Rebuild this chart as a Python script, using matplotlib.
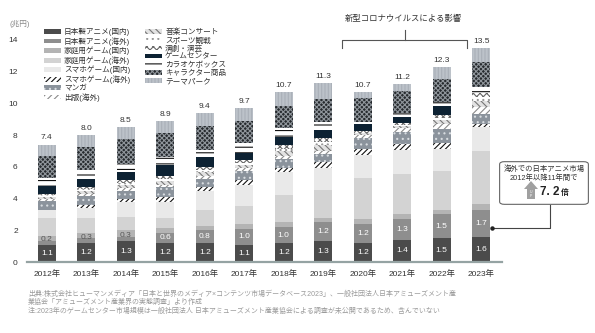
import matplotlib.pyplot as plt
import numpy as np
from matplotlib.patches import FancyBboxPatch, Polygon
from matplotlib.lines import Line2D

plt.rcParams['font.family'] = ['Liberation Sans', 'Noto Sans CJK JP', 'DejaVu Sans']
plt.rcParams['hatch.linewidth'] = 0.8

years = ['2012年', '2013年', '2014年', '2015年', '2016年', '2017年',
         '2018年', '2019年', '2020年', '2021年', '2022年', '2023年']

anime_dom = [1.1, 1.2, 1.3, 1.2, 1.2, 1.1, 1.2, 1.3, 1.2, 1.4, 1.5, 1.6]
anime_ovs = [0.2, 0.3, 0.3, 0.6, 0.8, 1.0, 1.0, 1.2, 1.2, 1.3, 1.5, 1.7]
console_dom = [0.35, 0.3, 0.4, 0.35, 0.3, 0.3, 0.3, 0.3, 0.3, 0.35, 0.25, 0.35]
console_ovs = [1.1, 1.0, 0.85, 0.65, 0.95, 1.15, 1.75, 1.75, 2.6, 2.5, 2.5, 3.35]
mobile_dom = [0.5, 0.6, 0.95, 1.0, 1.2, 1.3, 1.4, 1.4, 1.45, 1.5, 1.4, 1.5]
mobile_ovs = [0.0, 0.2, 0.2, 0.3, 0.3, 0.3, 0.3, 0.35, 0.4, 0.4, 0.35, 0.2]
manga = [0.6, 0.55, 0.5, 0.6, 0.5, 0.6, 0.55, 0.5, 0.65, 0.75, 0.9, 0.6]
publish_ovs = [0.1, 0.15, 0.15, 0.15, 0.15, 0.15, 0.2, 0.2, 0.2, 0.25, 0.3, 0.45]
concert = [0.15, 0.2, 0.2, 0.25, 0.25, 0.2, 0.3, 0.35, 0.1, 0.1, 0.25, 0.4]
sports = [0.1, 0.1, 0.15, 0.15, 0.15, 0.15, 0.15, 0.2, 0.05, 0.1, 0.15, 0.25]
theater = [0.1, 0.15, 0.15, 0.15, 0.2, 0.15, 0.2, 0.25, 0.1, 0.1, 0.15, 0.25]
game_center = [0.5, 0.5, 0.5, 0.7, 0.6, 0.5, 0.5, 0.5, 0.45, 0.4, 0.6, 0.0]
karaoke = [0.5, 0.55, 0.55, 0.5, 0.45, 0.6, 0.6, 0.5, 0.15, 0.25, 0.25, 0.4]
character = [1.4, 1.45, 1.55, 1.5, 1.5, 1.4, 1.4, 1.5, 1.5, 1.35, 1.45, 1.55]
theme_park = [0.7, 0.75, 0.75, 0.8, 0.85, 0.8, 0.85, 1.0, 0.35, 0.45, 0.75, 0.9]

series = [
    ('日本製アニメ(国内)', anime_dom, dict(color='#4b4b4b')),
    ('日本製アニメ(海外)', anime_ovs, dict(color='#8e8e8e')),
    ('家庭用ゲーム(国内)', console_dom, dict(color='#b4b4b4')),
    ('家庭用ゲーム(海外)', console_ovs, dict(color='#d3d3d3')),
    ('スマホゲーム(国内)', mobile_dom, dict(color='#e9e9e9')),
    ('スマホゲーム(海外)', mobile_ovs, dict(facecolor='white', edgecolor='#111111', hatch='//////')),
    ('マンガ', manga, dict(facecolor='#8b939c', edgecolor='#d8dce0', hatch='...')),
    ('出版(海外)', publish_ovs, dict(facecolor='white', edgecolor='#8a8a8a', hatch='/////')),
    ('音楽コンサート', concert, dict(facecolor='#e2e2e2', edgecolor='#777777', hatch='\\\\\\\\\\')),
    ('スポーツ観戦', sports, dict(facecolor='white', edgecolor='#9a9a9a', hatch='...')),
    ('演劇・演芸', theater, dict(facecolor='white', edgecolor='#666666', hatch='xxxxx')),
    ('ゲームセンター', game_center, dict(color='#0d2233')),
    ('カラオケボックス', karaoke, dict(facecolor='white', edgecolor='#111111', hatch='---')),
    ('キャラクター商品', character, dict(facecolor='#262a2e', edgecolor='#8f959b', hatch='xxxxxxx')),
    ('テーマパーク', theme_park, dict(facecolor='#bcc2c9', edgecolor='#aab0b8', hatch='|||||')),
]

fig = plt.figure(figsize=(5.95, 3.33), dpi=100)
ax = fig.add_axes([0.045, 0.2132, 0.799, 0.667])

x = np.arange(len(years))
width = 0.46
bottom = np.zeros(len(years))
handles = []
for name, vals, style in series:
    vals = np.array(vals)
    bars = ax.bar(x, vals, width, bottom=bottom, linewidth=0, label=name, **style)
    handles.append(bars)
    if name.startswith('日本製アニメ'):
        for xi, v, b in zip(x, vals, bottom):
            small = v < 0.5
            y = max(b + v / 2, b + 0.35)
            ax.text(xi, y, f'{v:.1f}', ha='center', va='center', fontsize=6,
                    color='#555555' if small else 'white')
    bottom += vals

# totals above each bar
for xi, t in zip(x, bottom):
    ax.text(xi, t + 0.2, f'{t:.1f}', ha='center', va='bottom', fontsize=6, color='#333333')

ax.set_xlim(-0.507, 11.53)
ax.set_ylim(0, 14)
ax.set_yticks(range(0, 15, 2))
ax.set_xticks(x)
ax.set_xticklabels(years)
ax.tick_params(axis='y', length=0, pad=6.5, labelsize=6, labelcolor='#333333')
ax.tick_params(axis='x', length=0, pad=6, labelsize=6, labelcolor='#333333')
for s in ['top', 'right', 'left']:
    ax.spines[s].set_visible(False)
ax.spines['bottom'].set_color('#95a3a3')
ax.spines['bottom'].set_linewidth(1.6)

fig.text(10 / 595, 1 - 24 / 333, '(兆円)', fontsize=5.5, color='#888888', va='center')

leg = fig.legend(handles=handles, ncol=2, loc='upper left',
                 bbox_to_anchor=(44 / 595, 1 - 28 / 333), frameon=False,
                 fontsize=5.5, handlelength=2.2, handleheight=0.55,
                 handletextpad=0.4, labelspacing=0.12, columnspacing=2.0,
                 borderpad=0, borderaxespad=0)
for t in leg.get_texts():
    t.set_color('#333333')

# bracket for the COVID-19 period
def fx(px):
    return px / 595

def fy(py):
    return 1 - py / 333

br = '#555555'
fig.add_artist(Line2D([fx(342), fx(342), fx(467), fx(467)],
                      [fy(48), fy(39.5), fy(39.5), fy(48)], color=br, lw=0.8))
fig.add_artist(Line2D([fx(405), fx(405)], [fy(39.5), fy(30)], color=br, lw=0.8))
fig.text(fx(403), fy(19), '新型コロナウイルスによる影響', ha='center', va='center',
         fontsize=6, color='#333333')

# callout box for overseas anime growth
fig.add_artist(FancyBboxPatch((fx(502), fy(203)), fx(84), 40 / 333,
                              boxstyle='round,pad=0.004,rounding_size=0.008',
                              transform=fig.transFigure, facecolor='white',
                              edgecolor='#666666', lw=0.8))
fig.text(fx(544), fy(169), '海外での日本アニメ市場', ha='center', va='center',
         fontsize=5.3, color='#333333')
fig.text(fx(544), fy(178), '2012年以降11年間で', ha='center', va='center',
         fontsize=5.3, color='#333333')
arrow = [(527, 199), (527, 189), (524, 189), (531, 181), (538, 189), (535, 189), (535, 199)]
fig.add_artist(Polygon([(fx(a), fy(b)) for a, b in arrow], closed=True,
                       transform=fig.transFigure, facecolor='#a0a0a0', edgecolor='none'))
fig.text(fx(531), fy(194), 'U\nP', ha='center', va='center', fontsize=2.5,
         color='white', linespacing=0.9)
fig.text(fx(540), fy(192), '7. 2', ha='left', va='center', fontsize=8.5,
         fontweight='bold', color='#222222')
fig.text(fx(561), fy(193), '倍', ha='left', va='center', fontsize=5.5,
         fontweight='bold', color='#222222')
fig.add_artist(Line2D([fx(550), fx(550), fx(492)], [fy(205), fy(228), fy(228)],
                      color='#444444', lw=0.8))
fig.add_artist(Line2D([fx(492)], [fy(228)], marker='o', markersize=2.2,
                      color='#222222'))

notes = [
    '出典:株式会社ヒューマンメディア「日本と世界のメディア×コンテンツ市場データベース2023」、一般社団法人日本アミューズメント産',
    '業協会「アミューズメント産業界の実態調査」より作成',
    '注:2023年のゲームセンター市場規模は一般社団法人 日本アミューズメント産業協会による調査が未公開であるため、含んでいない',
]
for i, line in enumerate(notes):
    fig.text(fx(28), fy(294 + i * 8.6), line, ha='left', va='center',
             fontsize=5.0, color='#9a9a9a')

fig.savefig('out.png', dpi=100)
